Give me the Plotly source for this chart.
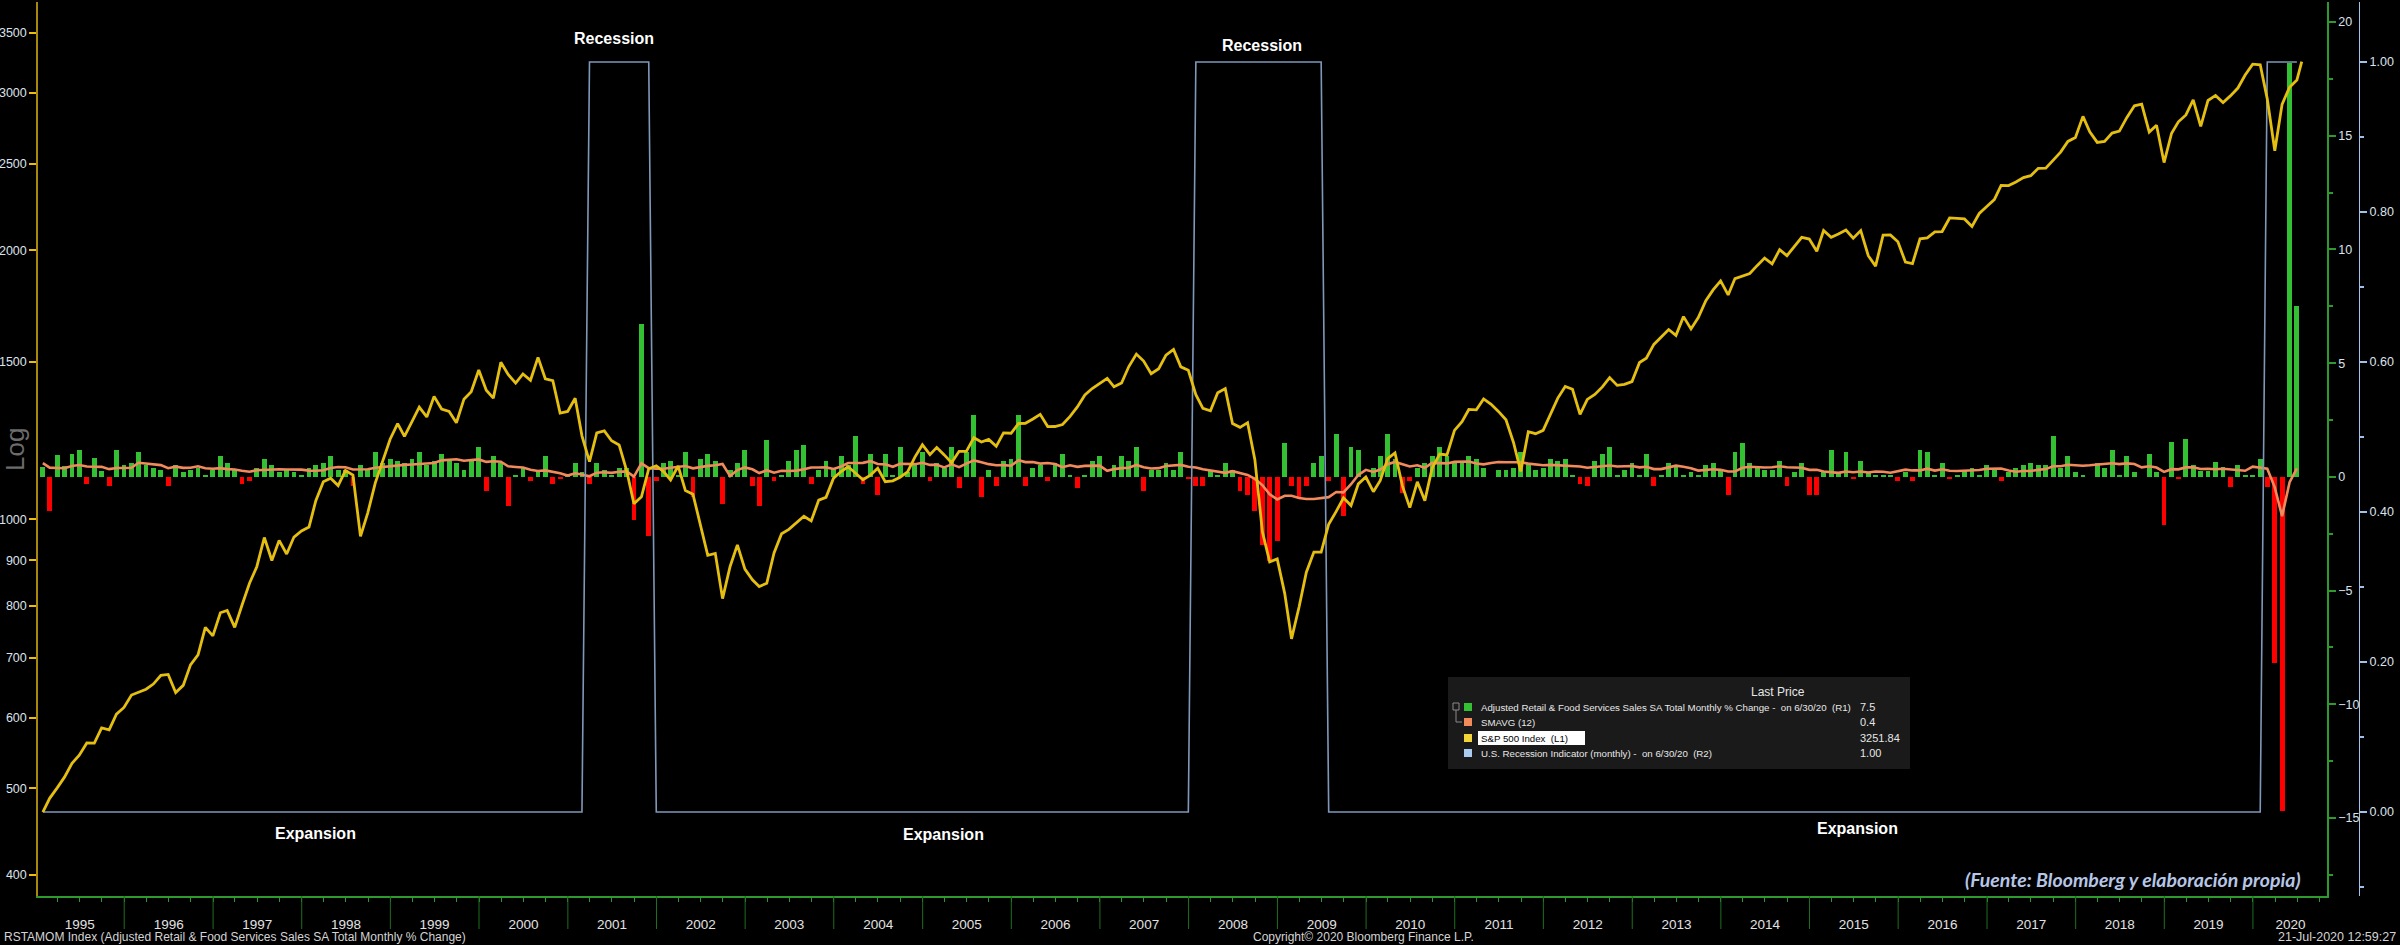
import pandas as pd
import plotly.graph_objects as go

# ---- data -------------------------------------------------------------
# S&P 500 month-end closes, Jan-1995 .. Jun-2020, plus 20-Jul-2020
spx_close = [
    470.42, 487.39, 500.71, 514.71, 533.40, 544.75, 562.06, 561.88, 584.41, 581.50, 605.37, 615.93,
    636.02, 640.43, 645.50, 654.17, 669.12, 670.63, 639.95, 651.99, 687.31, 705.27, 757.02, 740.74,
    786.16, 790.82, 757.12, 801.34, 848.28, 885.14, 954.31, 899.47, 947.28, 914.62, 955.40, 970.43,
    980.28, 1049.34, 1101.75, 1111.75, 1090.82, 1133.84, 1120.67, 957.28, 1017.01, 1098.67, 1163.63, 1229.23,
    1279.64, 1238.33, 1286.37, 1335.18, 1301.84, 1372.71, 1328.72, 1320.41, 1282.71, 1362.93, 1388.91, 1469.25,
    1394.46, 1366.42, 1498.58, 1452.43, 1420.60, 1454.60, 1430.83, 1517.68, 1436.51, 1429.40, 1314.95, 1320.28,
    1366.01, 1239.94, 1160.33, 1249.46, 1255.82, 1224.42, 1211.23, 1133.58, 1040.94, 1059.78, 1139.45, 1148.08,
    1130.20, 1106.73, 1147.39, 1076.92, 1067.14, 989.82, 911.62, 916.07, 815.28, 885.76, 936.31, 879.82,
    855.70, 841.15, 848.18, 916.92, 963.59, 974.50, 990.31, 1008.01, 995.97, 1050.71, 1058.20, 1111.92,
    1131.13, 1144.94, 1126.21, 1107.30, 1120.68, 1140.84, 1101.72, 1104.24, 1114.58, 1130.20, 1173.82, 1211.92,
    1181.27, 1203.60, 1180.59, 1156.85, 1191.50, 1191.33, 1234.18, 1220.33, 1228.81, 1207.01, 1249.48, 1248.29,
    1280.08, 1280.66, 1294.83, 1310.61, 1270.09, 1270.20, 1276.66, 1303.82, 1335.85, 1377.94, 1400.63, 1418.30,
    1438.24, 1406.82, 1420.86, 1482.37, 1530.62, 1503.35, 1455.27, 1473.99, 1526.75, 1549.38, 1481.14, 1468.36,
    1378.55, 1330.63, 1322.70, 1385.59, 1400.38, 1280.00, 1267.38, 1282.83, 1166.36, 968.75, 896.24, 903.25,
    825.88, 735.09, 797.87, 872.81, 919.14, 919.32, 987.48, 1020.62, 1057.08, 1036.19, 1095.63, 1115.10,
    1073.87, 1104.49, 1169.43, 1186.69, 1089.41, 1030.71, 1101.60, 1049.33, 1141.20, 1183.26, 1180.55, 1257.64,
    1286.12, 1327.22, 1325.83, 1363.61, 1345.20, 1320.64, 1292.28, 1218.89, 1131.42, 1253.30, 1246.96, 1257.60,
    1312.41, 1365.68, 1408.47, 1397.91, 1310.33, 1362.16, 1379.32, 1406.58, 1440.67, 1412.16, 1416.18, 1426.19,
    1498.11, 1514.68, 1569.19, 1597.57, 1630.74, 1606.28, 1685.73, 1632.97, 1681.55, 1756.54, 1805.81, 1848.36,
    1782.59, 1859.45, 1872.34, 1883.95, 1923.57, 1960.23, 1930.67, 2003.37, 1972.29, 2018.05, 2067.56, 2058.90,
    1994.99, 2104.50, 2067.89, 2085.51, 2107.39, 2063.11, 2103.84, 1972.18, 1920.03, 2079.36, 2080.41, 2043.94,
    1940.24, 1932.23, 2059.74, 2065.30, 2096.95, 2098.86, 2173.60, 2170.95, 2168.27, 2126.15, 2198.81, 2238.83,
    2278.87, 2363.64, 2362.72, 2384.20, 2411.80, 2423.41, 2470.30, 2471.65, 2519.36, 2575.26, 2647.58, 2673.61,
    2823.81, 2713.83, 2640.87, 2648.05, 2705.27, 2718.37, 2816.29, 2901.52, 2913.98, 2711.74, 2760.17, 2506.85,
    2704.10, 2784.49, 2834.40, 2945.83, 2752.06, 2941.76, 2980.38, 2926.46, 2976.74, 3037.56, 3140.98, 3230.78,
    3225.52, 2954.22, 2584.59, 2912.43, 3044.31, 3100.29, 3251.84,
]

# Adjusted retail & food services sales, monthly % change, Jan-1995 .. Jun-2020
retail_mom = [
    0.45, -1.5, 0.95, 0.48, 1.0, 1.2, -0.3, 0.83, 0.26, -0.4, 1.2, 0.5,
    0.6, 1.1, 0.5, 0.4, 0.3, -0.4, 0.5, 0.2, 0.3, 0.4, 0.1, 0.3,
    0.9, 0.6, 0.3, -0.3, -0.2, 0.4, 0.8, 0.5, 0.2, 0.3, 0.2, 0.1,
    0.4, 0.5, 0.6, 0.9, 0.3, 0.3, -0.4, 0.5, 0.3, 1.1, 0.6, 0.8,
    0.7, 0.6, 0.8, 1.1, 0.5, 0.7, 1.0, 0.8, 0.6, 0.3, 0.8, 1.3,
    -0.6, 0.9, 0.6, -1.3, 0.1, 0.4, -0.2, 0.2, 0.9, -0.3, -0.1, 0.1,
    0.6, 0.2, -0.3, 0.6, 0.3, 0.1, 0.4, 0.4, -1.9, 6.7, -2.6, -0.2,
    0.6, 0.7, 0.1, 1.1, -0.9, 0.8, 1.0, 0.7, -1.2, 0.3, 0.6, 1.2,
    -0.4, -1.3, 1.6, -0.2, 0.1, 0.7, 1.2, 1.4, -0.3, 0.3, 0.7, 0.4,
    0.9, 0.5, 1.8, -0.3, 1.0, -0.8, 1.0, 0.1, 1.3, 0.2, 0.6, 1.1,
    -0.2, 0.6, 0.4, 1.3, -0.5, 1.1, 2.7, -0.9, 0.3, -0.4, 0.7, 0.8,
    2.7, -0.4, 0.4, 0.5, -0.2, 0.6, 1.0, 0.1, -0.5, 0.1, 0.7, 0.9,
    0.0, 0.5, 0.9, 0.7, 1.3, -0.6, 0.3, 0.3, 0.6, 0.3, 1.1, -0.1,
    -0.4, -0.4, 0.3, 0.1, 0.6, 0.3, -0.6, -0.8, -1.5, -3.0, -3.7, -2.8,
    1.5, -0.4, -0.9, -0.4, 0.6, 0.9, -0.2, 1.9, -1.7, 1.3, 1.2, -0.1,
    0.4, 0.9, 1.9, 0.8, -0.7, -0.2, 0.4, 0.6, 0.9, 1.3, 0.9, 0.7,
    0.6, 0.9, 0.8, 0.4, 0.0, 0.3, 0.3, 0.4, 1.1, 0.6, 0.3, 0.4,
    0.8, 0.7, 0.8, 0.1, -0.3, -0.4, 0.7, 1.0, 1.3, 0.1, 0.3, 0.6,
    0.1, 1.0, -0.4, 0.1, 0.6, 0.5, 0.1, 0.2, 0.1, 0.5, 0.6, 0.3,
    -0.8, 1.1, 1.5, 0.6, 0.4, 0.3, 0.3, 0.7, -0.4, 0.2, 0.6, -0.8,
    -0.8, 0.2, 1.2, 0.2, 1.1, -0.1, 0.7, 0.2, 0.1, 0.1, 0.1, -0.2,
    0.2, -0.2, 1.2, 1.1, 0.1, 0.6, -0.1, 0.1, 0.3, 0.4, 0.1, 0.5,
    0.3, -0.2, 0.2, 0.4, 0.5, 0.6, 0.5, 0.5, 1.8, 0.4, 0.9, 0.2,
    0.1, 0.0, 0.6, 0.4, 1.2, 0.1, 0.9, 0.2, 0.0, 1.0, 0.2, -2.1,
    1.55, -0.1, 1.65, 0.5, 0.25, 0.25, 0.65, 0.45, -0.45, 0.5, 0.05, 0.1,
    0.8, -0.45, -8.2, -14.7, 18.2, 7.5,
]
# Feb..Dec 1994 changes, only used to warm up the 12-month average
retail_mom_1994 = [0.9, 1.1, 0.6, -0.2, 0.7, 0.5, 1.0, 0.3, 0.8, 0.6, 0.5]

# U.S. recession indicator (monthly) = 1 inside these month-end spans
recession_spans = [("2001-03-31", "2001-11-30"), ("2008-01-31", "2009-06-30"), ("2020-02-29", "2020-06-30")]

years = list(range(1995, 2021))
year_label_dates = [f"{y}-07-02" for y in years[:-1]] + ["2020-06-04"]

# ---- derived series ---------------------------------------------------
month_end = pd.date_range("1995-02-01", "2020-07-01", freq="MS") - pd.Timedelta(days=1)
spx_dates = list(month_end) + [pd.Timestamp("2020-07-20")]
sma12 = pd.Series(retail_mom_1994 + retail_mom).rolling(12).mean().iloc[len(retail_mom_1994):]
recession = [1 if any(pd.Timestamp(a) <= d <= pd.Timestamp(b) for a, b in recession_spans) else 0
             for d in month_end]

GREEN = "#33C133"
RED = "#FF0000"
ORANGE = "#F28A5C"
GOLD = "#E5BE12"
BLUE = "#7F98BA"
AX_GREEN = "#2E9A2E"
AX_BLUE = "#9EC2EA"
AX_GOLD = "#A8870E"

# pixel helpers (plot area: x 38..2327 of a 2362-wide domain, y 2..896)
PL, PW, PB, PH = 38, 2362, 896, 894


def px(x):
    return (x - PL) / PW


def py(y):
    return (PB - y) / PH


fig = go.Figure()

fig.add_trace(go.Bar(
    x=month_end, y=retail_mom, yaxis="y",
    marker=dict(color=[GREEN if v >= 0 else RED for v in retail_mom], line=dict(width=0)),
    width=20 * 86400000,
))
fig.add_trace(go.Scatter(x=month_end, y=list(sma12), yaxis="y", mode="lines",
                         line=dict(color=ORANGE, width=2.6)))
fig.add_trace(go.Scatter(x=month_end, y=recession, yaxis="y2", mode="lines",
                         line=dict(color=BLUE, width=1.6)))
fig.add_trace(go.Scatter(x=spx_dates, y=spx_close, yaxis="y3", mode="lines",
                         line=dict(color=GOLD, width=2.8)))

font_axis = dict(family="Liberation Sans, Arial", size=12.5, color="#DCE2EC")

fig.update_layout(
    width=2400, height=945,
    margin=dict(l=38, r=0, t=2, b=49),
    paper_bgcolor="black", plot_bgcolor="black",
    showlegend=False, bargap=0,
    xaxis=dict(
        domain=[0, (2327 - PL) / PW],
        type="date", range=["1995-01-11", "2020-11-01"],
        tickmode="array", tickvals=year_label_dates, ticktext=[str(y) for y in years],
        ticks="outside", ticklen=15, tickcolor="rgba(0,0,0,0)",
        tickfont=dict(family="Liberation Sans, Arial", size=13.5, color="#E2E2E2"),
        minor=dict(ticks="outside", tickmode="linear", tick0="1995-01-01", dtick="M3",
                   ticklen=4, tickcolor=AX_GREEN),
        showline=True, linecolor=AX_GREEN, linewidth=1.5,
        showgrid=False, zeroline=False, fixedrange=True,
    ),
    yaxis=dict(
        side="right", anchor="x", range=[-18.43, 20.88],
        tickmode="linear", tick0=0, dtick=5,
        ticks="outside", ticklen=7, tickwidth=2, tickcolor=AX_GREEN,
        minor=dict(ticks="outside", dtick=2.5, ticklen=4, tickcolor=AX_GREEN),
        showline=True, linecolor=AX_GREEN, linewidth=1.5,
        tickfont=font_axis, showgrid=False, zeroline=False,
    ),
    yaxis2=dict(
        overlaying="y", side="right", anchor="free", position=(2359 - PL) / PW,
        range=[-0.112, 1.08], tickmode="linear", tick0=0, dtick=0.2, tickformat=".2f",
        ticks="outside", ticklen=7, tickwidth=2, tickcolor=AX_BLUE,
        minor=dict(ticks="outside", dtick=0.1, ticklen=4, tickcolor=AX_BLUE),
        showline=True, linecolor=AX_BLUE, linewidth=1.2,
        tickfont=font_axis, showgrid=False, zeroline=False,
    ),
    yaxis3=dict(
        overlaying="y", side="left", anchor="x", type="log",
        range=[2.5786, 3.5788],
        tickmode="array", tickvals=[400, 500, 600, 700, 800, 900, 1000, 1500, 2000, 2500, 3000, 3500],
        ticks="outside", ticklen=7, tickwidth=2, tickcolor="#E8BE10",
        showline=True, linecolor=AX_GOLD, linewidth=1.5,
        tickfont=font_axis, showgrid=False, zeroline=False,
    ),
)

shapes = []
# year separators below the time axis
for y in years[1:]:
    shapes.append(dict(type="line", xref="x", yref="paper", x0=f"{y}-01-01", x1=f"{y}-01-01",
                       y0=0, y1=py(929), line=dict(color="#1F6E1F", width=1)))
# legend panel
shapes.append(dict(type="rect", xref="paper", yref="paper", x0=px(1448), x1=px(1910),
                   y0=py(769), y1=py(677), fillcolor="#1A1A1A", line=dict(width=0), layer="below"))
legend_rows = [
    (707, GREEN, "Adjusted Retail &amp; Food Services Sales SA Total Monthly % Change -  on 6/30/20  (R1)", "7.5"),
    (722, ORANGE, "SMAVG (12)", "0.4"),
    (738, "#F2D43A", "S&amp;P 500 Index  (L1)", "3251.84"),
    (753, "#A8CCF2", "U.S. Recession Indicator (monthly) -  on 6/30/20  (R2)", "1.00"),
]
for yy, col, _, _ in legend_rows:
    shapes.append(dict(type="rect", xref="paper", yref="paper", x0=px(1464), x1=px(1472),
                       y0=py(yy + 4), y1=py(yy - 4), fillcolor=col, line=dict(width=0)))
# highlight behind S&P row
shapes.append(dict(type="rect", xref="paper", yref="paper", x0=px(1478), x1=px(1585),
                   y0=py(745), y1=py(731), fillcolor="white", line=dict(width=0)))
# tree icon
shapes.append(dict(type="rect", xref="paper", yref="paper", x0=px(1453), x1=px(1459),
                   y0=py(710), y1=py(703), line=dict(color="#8A8A8A", width=1)))
shapes.append(dict(type="line", xref="paper", yref="paper", x0=px(1456), x1=px(1456),
                   y0=py(710), y1=py(722), line=dict(color="#8A8A8A", width=1)))
shapes.append(dict(type="line", xref="paper", yref="paper", x0=px(1456), x1=px(1462),
                   y0=py(722), y1=py(722), line=dict(color="#8A8A8A", width=1)))

ann = []


def text(x, y, s, size=13, color="#E6E6E6", anchor="left", family="Liberation Sans, Arial", yanchor="middle"):
    ann.append(dict(x=px(x), y=py(y), xref="paper", yref="paper", text=s, showarrow=False,
                    xanchor=anchor, yanchor=yanchor, font=dict(family=family, size=size, color=color)))


for x, y in [(614, 39), (1262, 46)]:
    text(x, y, "<b>Recession</b>", size=16, color="white", anchor="center")
for x, y in [(315, 833), (943, 834), (1857, 828)]:
    text(x, y, "<b>Expansion</b>", size=16, color="white", anchor="center")

text(2303, 879, "<b><i>(Fuente: Bloomberg y elaboración propia)</i></b>", size=19.5,
     color="#B6C6E6", anchor="right", family="Lato, Liberation Sans")

text(1778, 692, "Last Price", size=12, anchor="center")
for yy, _, label, val in legend_rows:
    text(1479, yy, label, size=9.7, color="black" if val == "3251.84" else "#E8E8E8")
    text(1858, yy, val, size=11)

text(2, 937, "RSTAMOM Index (Adjusted Retail &amp; Food Services Sales SA Total Monthly % Change)",
     size=12, color="#D4D4D4")
text(1363, 937, "Copyright© 2020 Bloomberg Finance L.P.", size=12, color="#D4D4D4", anchor="center")
text(2398, 937, "21-Jul-2020 12:59:27", size=12.5, color="#D4D4D4", anchor="right")

ann.append(dict(x=px(15), y=py(450), xref="paper", yref="paper", text="Log", showarrow=False,
                xanchor="center", yanchor="middle", textangle=-90,
                font=dict(family="Liberation Sans, Arial", size=26, color="#6C6C6C")))

fig.update_layout(shapes=shapes, annotations=ann)
# the page should start at the very corner, like the terminal screenshot
fig.write_html("out.html", config={"displayModeBar": False},
               post_script="document.body.style.margin='0';document.body.style.overflow='hidden';")
